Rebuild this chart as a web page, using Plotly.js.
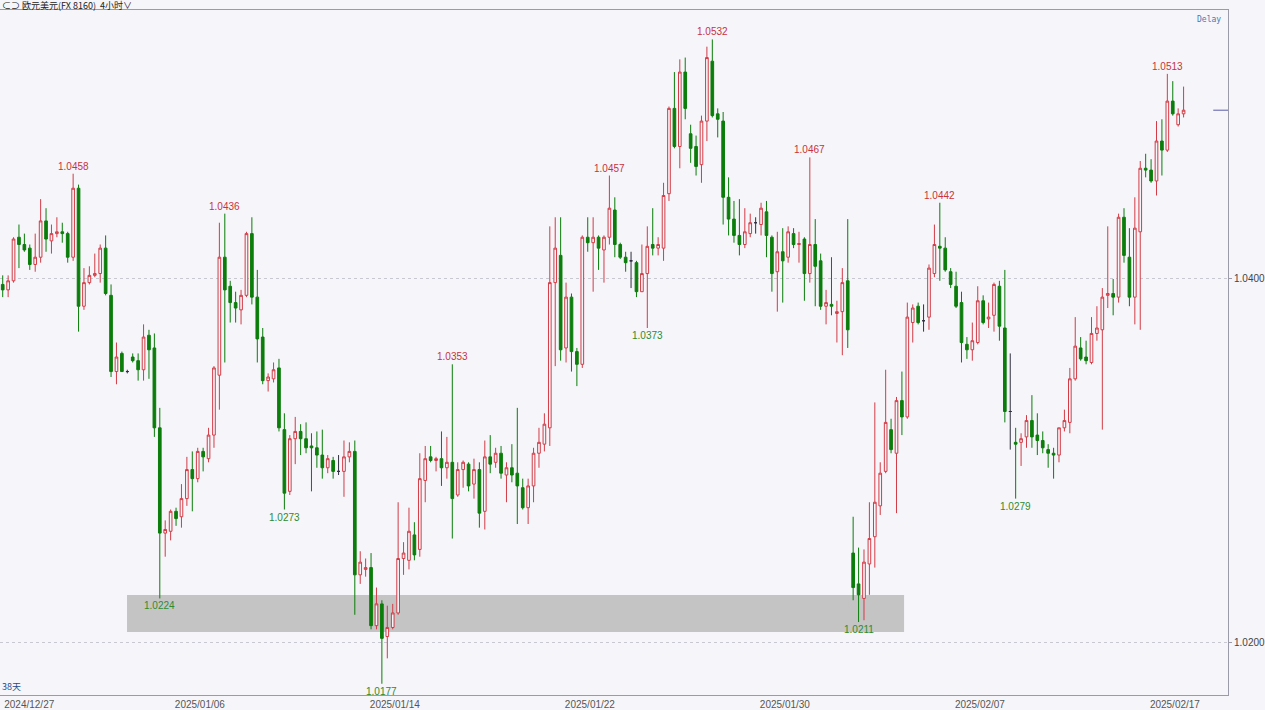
<!DOCTYPE html>
<html><head><meta charset="utf-8">
<script src="https://cdn.plot.ly/plotly-3.0.1.min.js"></script>
<style>html,body{margin:0;padding:0;background:#f5f5fa;}#chart{width:1265px;height:710px;}</style>
</head><body><div id="chart"></div>
<script>
// EUR/USD 4-hour candles (oldest first)
const openP  = [1.0397,1.0394,1.0399,1.0423,1.0419,1.0417,1.0408,1.0412,1.0432,1.0421,1.0425,1.0426,1.0425,1.0412,1.0450,1.0385,1.0398,1.0402,1.0403,1.0417,
1.0391,1.0349,1.0359,1.0349,1.0357,1.0355,1.0350,1.0369,1.0362,1.0318,1.0260,1.0261,1.0272,1.0269,1.0279,1.0295,1.0290,1.0305,1.0301,1.0314,
1.0347,1.0412,1.0396,1.0387,1.0383,1.0391,1.0425,1.0390,1.0368,1.0344,1.0345,1.0351,1.0317,1.0283,1.0312,1.0316,1.0312,1.0308,1.0307,1.0303,
1.0296,1.0300,1.0294,1.0294,1.0302,1.0305,1.0237,1.0240,1.0241,1.0209,1.0221,1.0203,1.0208,1.0216,1.0246,1.0245,1.0259,1.0251,1.0289,1.0302,
1.0300,1.0301,1.0296,1.0299,1.0281,1.0295,1.0298,1.0287,1.0295,1.0272,1.0302,1.0299,1.0304,1.0292,1.0296,1.0293,1.0285,1.0274,1.0286,1.0304,
1.0309,1.0318,1.0398,1.0413,1.0362,1.0390,1.0360,1.0353,1.0423,1.0420,1.0423,1.0416,1.0423,1.0438,1.0419,1.0412,1.0410,1.0409,1.0393,1.0403,
1.0419,1.0417,1.0417,1.0447,1.0494,1.0473,1.0514,1.0480,1.0473,1.0463,1.0487,1.0520,1.0491,1.0487,1.0445,1.0433,1.0424,1.0419,1.0425,1.0431,
1.0430,1.0437,1.0423,1.0404,1.0415,1.0412,1.0425,1.0419,1.0422,1.0403,1.0419,1.0410,1.0385,1.0386,1.0381,1.0382,1.0399,1.0249,1.0232,1.0224,
1.0243,1.0258,1.0275,1.0294,1.0317,1.0304,1.0333,1.0324,1.0376,1.0385,1.0377,1.0379,1.0403,1.0418,1.0417,1.0404,1.0396,1.0387,1.0364,1.0361,
1.0365,1.0388,1.0378,1.0380,1.0396,1.0373,1.0327,1.0310,1.0310,1.0313,1.0322,1.0314,1.0311,1.0306,1.0304,1.0303,1.0318,1.0321,1.0345,1.0362,
1.0357,1.0354,1.0370,1.0372,1.0391,1.0392,1.0390,1.0434,1.0412,1.0390,1.0426,1.0461,1.0460,1.0454,1.0476,1.0471,1.0498,1.0485,1.0491];
const highP  = [1.0402,1.0402,1.0423,1.0430,1.0425,1.0419,1.0425,1.0444,1.0439,1.0430,1.0434,1.0431,1.0426,1.0458,1.0452,1.0406,1.0407,1.0414,1.0419,1.0424,
1.0397,1.0365,1.0360,1.0350,1.0359,1.0359,1.0375,1.0372,1.0370,1.0329,1.0267,1.0273,1.0274,1.0287,1.0302,1.0305,1.0307,1.0307,1.0318,1.0352,
1.0431,1.0436,1.0399,1.0393,1.0394,1.0426,1.0434,1.0405,1.0373,1.0348,1.0354,1.0356,1.0326,1.0314,1.0324,1.0320,1.0321,1.0315,1.0316,1.0317,
1.0303,1.0302,1.0303,1.0311,1.0310,1.0311,1.0250,1.0246,1.0249,1.0230,1.0223,1.0220,1.0221,1.0277,1.0255,1.0274,1.0266,1.0304,1.0308,1.0308,
1.0302,1.0316,1.0313,1.0353,1.0299,1.0300,1.0299,1.0301,1.0299,1.0311,1.0314,1.0307,1.0308,1.0299,1.0309,1.0329,1.0290,1.0290,1.0307,1.0318,
1.0326,1.0429,1.0434,1.0434,1.0398,1.0392,1.0362,1.0424,1.0434,1.0434,1.0424,1.0424,1.0457,1.0445,1.0420,1.0415,1.0415,1.0410,1.0419,1.0429,
1.0439,1.0423,1.0453,1.0495,1.0514,1.0521,1.0522,1.0485,1.0479,1.0490,1.0528,1.0532,1.0494,1.0492,1.0456,1.0443,1.0444,1.0439,1.0436,1.0434,
1.0442,1.0443,1.0424,1.0426,1.0428,1.0429,1.0428,1.0426,1.0423,1.0467,1.0433,1.0414,1.0394,1.0412,1.0388,1.0406,1.0433,1.0269,1.0252,1.0251,
1.0277,1.0332,1.0299,1.0350,1.0323,1.0335,1.0349,1.0387,1.0386,1.0387,1.0386,1.0408,1.0430,1.0442,1.0423,1.0406,1.0404,1.0393,1.0368,1.0376,
1.0396,1.0391,1.0387,1.0398,1.0399,1.0405,1.0359,1.0318,1.0315,1.0325,1.0336,1.0326,1.0316,1.0309,1.0307,1.0318,1.0328,1.0351,1.0379,1.0368,
1.0366,1.0379,1.0385,1.0395,1.0429,1.0400,1.0436,1.0439,1.0428,1.0445,1.0465,1.0469,1.0466,1.0487,1.0488,1.0513,1.0509,1.0494,1.0506];
const lowP   = [1.0390,1.0390,1.0398,1.0406,1.0415,1.0405,1.0404,1.0409,1.0415,1.0414,1.0423,1.0420,1.0409,1.0410,1.0371,1.0383,1.0397,1.0401,1.0398,1.0391,
1.0346,1.0342,1.0349,1.0348,1.0354,1.0344,1.0344,1.0345,1.0313,1.0224,1.0247,1.0256,1.0264,1.0263,1.0275,1.0272,1.0288,1.0294,1.0299,1.0307,
1.0328,1.0354,1.0376,1.0376,1.0375,1.0390,1.0386,1.0354,1.0342,1.0338,1.0343,1.0316,1.0273,1.0281,1.0298,1.0303,1.0304,1.0283,1.0296,1.0290,
1.0293,1.0290,1.0292,1.0280,1.0299,1.0215,1.0232,1.0236,1.0207,1.0207,1.0177,1.0191,1.0207,1.0215,1.0237,1.0240,1.0245,1.0247,1.0277,1.0299,
1.0294,1.0286,1.0290,1.0257,1.0280,1.0285,1.0283,1.0279,1.0263,1.0262,1.0293,1.0296,1.0290,1.0277,1.0288,1.0265,1.0273,1.0265,1.0277,1.0296,
1.0305,1.0308,1.0352,1.0355,1.0354,1.0349,1.0341,1.0351,1.0415,1.0393,1.0405,1.0398,1.0419,1.0412,1.0411,1.0404,1.0395,1.0390,1.0393,1.0373,
1.0413,1.0413,1.0410,1.0443,1.0472,1.0461,1.0488,1.0464,1.0457,1.0453,1.0476,1.0489,1.0478,1.0430,1.0424,1.0420,1.0413,1.0417,1.0423,1.0425,
1.0424,1.0412,1.0393,1.0382,1.0387,1.0409,1.0417,1.0409,1.0388,1.0398,1.0385,1.0383,1.0375,1.0380,1.0365,1.0358,1.0362,1.0223,1.0211,1.0212,
1.0226,1.0241,1.0270,1.0293,1.0304,1.0271,1.0314,1.0323,1.0365,1.0375,1.0371,1.0372,1.0401,1.0399,1.0404,1.0395,1.0384,1.0354,1.0356,1.0355,
1.0364,1.0375,1.0373,1.0371,1.0366,1.0321,1.0306,1.0279,1.0297,1.0307,1.0307,1.0303,1.0304,1.0296,1.0290,1.0299,1.0316,1.0315,1.0344,1.0355,
1.0353,1.0353,1.0366,1.0317,1.0384,1.0380,1.0387,1.0409,1.0385,1.0375,1.0372,1.0456,1.0453,1.0446,1.0457,1.0470,1.0490,1.0484,1.0489];
const closeP = [1.0394,1.0399,1.0422,1.0419,1.0416,1.0408,1.0412,1.0432,1.0422,1.0425,1.0426,1.0425,1.0412,1.0450,1.0385,1.0398,1.0402,1.0403,1.0417,1.0392,
1.0349,1.0357,1.0349,1.0349,1.0355,1.0350,1.0368,1.0361,1.0318,1.0260,1.0262,1.0272,1.0268,1.0279,1.0295,1.0290,1.0305,1.0302,1.0314,1.0351,
1.0412,1.0394,1.0387,1.0384,1.0391,1.0425,1.0390,1.0367,1.0344,1.0346,1.0350,1.0318,1.0282,1.0312,1.0316,1.0312,1.0307,1.0307,1.0303,1.0296,
1.0301,1.0294,1.0294,1.0302,1.0305,1.0237,1.0244,1.0241,1.0209,1.0221,1.0202,1.0208,1.0216,1.0246,1.0249,1.0261,1.0248,1.0290,1.0301,1.0300,
1.0301,1.0296,1.0299,1.0279,1.0295,1.0299,1.0286,1.0295,1.0271,1.0302,1.0298,1.0304,1.0293,1.0296,1.0292,1.0286,1.0274,1.0286,1.0304,1.0310,
1.0320,1.0398,1.0417,1.0361,1.0390,1.0360,1.0353,1.0423,1.0420,1.0423,1.0417,1.0423,1.0439,1.0419,1.0412,1.0409,1.0410,1.0393,1.0403,1.0418,
1.0417,1.0419,1.0446,1.0494,1.0473,1.0514,1.0494,1.0472,1.0462,1.0487,1.0522,1.0490,1.0488,1.0445,1.0433,1.0424,1.0419,1.0426,1.0431,1.0431,
1.0439,1.0424,1.0403,1.0415,1.0410,1.0426,1.0419,1.04195,1.0403,1.0419,1.0407,1.0385,1.0387,1.0385,1.0382,1.0398,1.0372,1.0230,1.0226,1.0244,
1.0257,1.0277,1.0293,1.0321,1.0306,1.0333,1.0324,1.0379,1.0384,1.0376,1.0377,1.0406,1.0419,1.0417,1.0405,1.0397,1.0385,1.0365,1.0361,1.0366,
1.0388,1.0376,1.0379,1.0397,1.0374,1.0327,1.0327,1.0309,1.0312,1.0322,1.0313,1.0311,1.0307,1.0304,1.0303,1.0318,1.0322,1.0345,1.0363,1.0356,
1.0355,1.0370,1.0373,1.0390,1.0392,1.0390,1.0434,1.0413,1.0390,1.0428,1.0461,1.0460,1.0454,1.0476,1.0471,1.0498,1.0491,1.0491,1.0493];

const dateLabels = ['2024/12/27','2025/01/06','2025/01/14','2025/01/22','2025/01/30','2025/02/07','2025/02/17'];
const dateLabelPos = [4.9, 36.4, 72.4, 108.4, 144.4, 180.4, 216.4];
const peakIdx = [13, 41, 83, 112, 131, 149, 173, 215];
const troughIdx = [29, 52, 70, 119, 158, 187];

const BG = '#f5f5fa', RED = '#d23c46', GREEN = '#0b7d0b', DOJI = '#303040';
const FONT = 'Liberation Sans, Arial, sans-serif';

function subset(pred) {
  const o = {x: [], open: [], high: [], low: [], close: []};
  openP.forEach((op, i) => {
    if (pred(op, closeP[i])) {
      o.x.push(i); o.open.push(op); o.high.push(highP[i]); o.low.push(lowP[i]); o.close.push(closeP[i]);
    }
  });
  return o;
}
function candle(d, col, fill) {
  return Object.assign({type: 'candlestick', hoverinfo: 'skip', showlegend: false,
    increasing: {line: {color: col, width: 1}, fillcolor: fill},
    decreasing: {line: {color: col, width: 1}, fillcolor: fill}, whiskerwidth: 0}, d);
}
const traces = [
  candle(subset((o, c) => c > o), RED, BG),
  candle(subset((o, c) => c < o), GREEN, GREEN),
  candle(subset((o, c) => c === o), DOJI, DOJI)
];

const annotations = [];
peakIdx.forEach(i => annotations.push({x: i, y: highP[i], xref: 'x', yref: 'y', text: highP[i].toFixed(4),
  showarrow: false, yanchor: 'bottom', yshift: 0, font: {family: FONT, size: 10, color: '#c8323c'}}));
troughIdx.forEach(i => annotations.push({x: i, y: lowP[i], xref: 'x', yref: 'y', text: lowP[i].toFixed(4),
  showarrow: false, yanchor: 'top', yshift: 0, font: {family: FONT, size: 10, color: '#2e8b2e'}}));
annotations.push({xref: 'paper', yref: 'paper', x: 0.996, y: 0.995, xanchor: 'right', yanchor: 'top', text: 'Delay',
  showarrow: false, font: {family: 'DejaVu Sans Mono, monospace', size: 8, color: '#4a78b0'}});
annotations.push({xref: 'paper', yref: 'paper', x: 0.0, y: 0.0, xanchor: 'left', yanchor: 'bottom', text: '38天',
  showarrow: false, font: {family: 'Noto Sans CJK SC, sans-serif', size: 9, color: '#2a4a8a'}});
annotations.push({xref: 'paper', yref: 'paper', x: 0.0, y: 1.0, xanchor: 'left', yanchor: 'middle', yshift: 5,
  text: '⊂⊃ 欧元美元(FX 8160)  4小时∨', showarrow: false,
  font: {family: 'Noto Sans CJK SC, sans-serif', size: 9, color: '#222'}});

const layout = {
  width: 1265, height: 710,
  margin: {l: 0, r: 37, t: 10, b: 15},
  paper_bgcolor: BG, plot_bgcolor: BG,
  showlegend: false,
  font: {family: FONT, size: 10, color: '#444'},
  xaxis: {range: [-0.5, 226.2], rangeslider: {visible: false}, showgrid: false, zeroline: false,
    showline: true, linecolor: '#9a9aa8', mirror: true, ticks: '', tickvals: dateLabelPos, ticktext: dateLabels,
    tickfont: {family: FONT, size: 10, color: '#555'}, fixedrange: true},
  yaxis: {side: 'right', range: [1.01708, 1.05482], tickvals: [1.02, 1.04], ticktext: ['1.0200', '1.0400'],
    showgrid: true, gridcolor: '#c8c8d0', griddash: 'dot', zeroline: false, showline: true, linecolor: '#9a9aa8',
    ticks: 'outside', ticklen: 3, tickcolor: '#9a9aa8', tickfont: {family: FONT, size: 10, color: '#444'}, fixedrange: true},
  shapes: [
    {type: 'rect', xref: 'x', yref: 'y', x0: 22.95, x1: 166.4, y0: 1.02055, y1: 1.02259,
      fillcolor: '#c4c4c4', line: {width: 0}, layer: 'below'},
    {type: 'line', xref: 'paper', yref: 'y', x0: 0.988, x1: 1.0, y0: closeP[closeP.length - 1], y1: closeP[closeP.length - 1],
      line: {color: '#5a5aa8', width: 1}}
  ],
  annotations: annotations
};

Plotly.newPlot('chart', traces, layout, {staticPlot: true, displayModeBar: false});
</script>
</body></html>
